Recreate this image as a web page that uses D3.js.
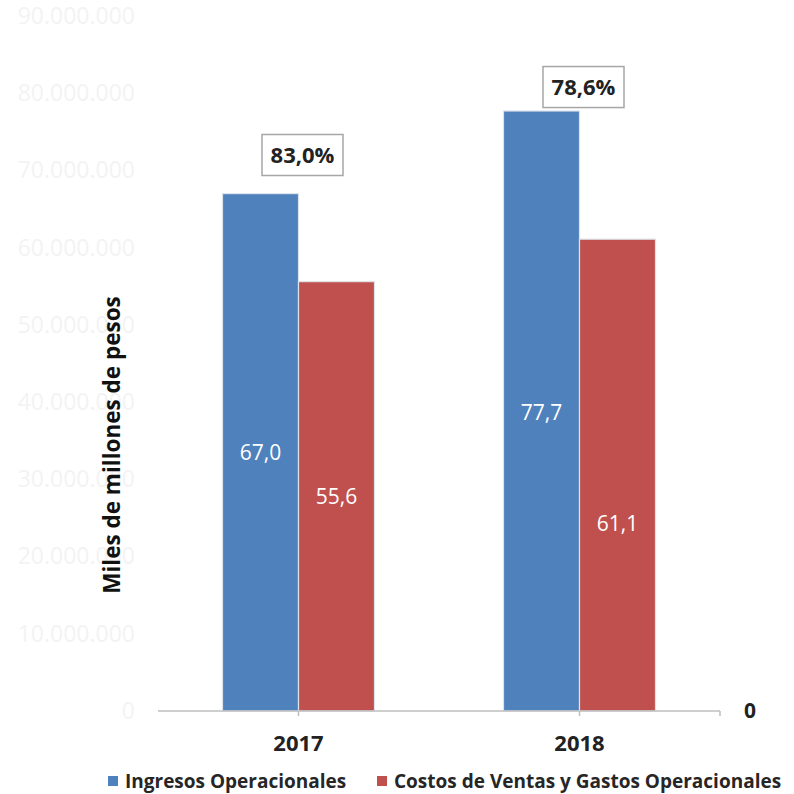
<!DOCTYPE html>
<html>
<head>
<meta charset="utf-8">
<script src="https://cdn.jsdelivr.net/npm/d3@7"></script>
<style>
  html, body { margin: 0; padding: 0; background: #fff; }
  svg { display: block; font-family: "Open Sans", Lato, sans-serif; }
</style>
</head>
<body>
<svg id="chart" width="794" height="794"></svg>
<script>
// ---- data ----
const years = ["2017", "2018"];
const seriesNames = ["Ingresos Operacionales", "Costos de Ventas y Gastos Operacionales"];
const seriesColors = ["#4F81BD", "#C0504D"];
const ingresos = [67.0, 77.7];
const costos = [55.6, 61.1];
const valueLabels = [["67,0", "55,6"], ["77,7", "61,1"]];
const labelAt = [[33.4, 27.8], [38.6, 24.2]];      // label heights in data units
const ratioLabels = ["83,0%", "78,6%"];
const ratioAt = [72.0, 80.8];                        // ratio box heights in data units
const yTicks = [0, 10, 20, 30, 40, 50, 60, 70, 80, 90];
const yTickLabels = ["0", "10.000.000", "20.000.000", "30.000.000", "40.000.000", "50.000.000",
                     "60.000.000", "70.000.000", "80.000.000", "90.000.000"];
const yTitle = "Miles de millones de pesos";
const rightAxisLabel = "0";

// ---- layout ----
const svg = d3.select("#chart");
const plotLeft = 158, plotRight = 720, plotBase = 711, plotTop = 16;

const y = d3.scaleLinear().domain([0, 90]).range([plotBase, plotTop]);
const x0 = d3.scaleBand().domain(years).range([plotLeft, plotRight]).padding(0);
const bw = x0.bandwidth();
const groupW = 152;
const x1 = d3.scaleBand().domain(seriesNames).range([bw / 2 - groupW / 2, bw / 2 + groupW / 2]).padding(0);

// y tick labels (very faint)
const yAxis = d3.axisLeft(y).tickValues(yTicks).tickFormat((d, i) => yTickLabels[i]).tickSize(0).tickPadding(0);
const gy = svg.append("g").attr("transform", `translate(135,0)`).call(yAxis);
gy.select(".domain").remove();
gy.selectAll("text").attr("fill", "#f3f3f3").attr("font-size", 23).attr("font-family", "'Open Sans', sans-serif");

// bars
const data = years.map((yr, i) => ({ year: yr, values: [ingresos[i], costos[i]] }));
const groups = svg.append("g").selectAll("g").data(data).join("g")
  .attr("transform", d => `translate(${x0(d.year)},0)`);
groups.selectAll("rect").data(d => d.values.map((v, j) => ({ v, j })))
  .join("rect")
  .attr("x", d => x1(seriesNames[d.j]))
  .attr("y", d => y(d.v))
  .attr("width", x1.bandwidth())
  .attr("height", d => y(0) - y(d.v))
  .attr("fill", d => seriesColors[d.j])
  .attr("stroke", "#dde3ea")
  .attr("stroke-width", 1.2);

// value labels inside bars
groups.each(function (d, i) {
  d3.select(this).selectAll("text.val").data(valueLabels[i]).join("text")
    .attr("class", "val")
    .attr("x", (t, j) => x1(seriesNames[j]) + x1.bandwidth() / 2)
    .attr("y", (t, j) => y(labelAt[i][j]))
    .attr("dy", "0.35em")
    .attr("text-anchor", "middle")
    .attr("fill", "#ffffff")
    .attr("font-size", 21)
    .text(t => t);
});

// x axis
const xAxisG = svg.append("g");
xAxisG.append("line").attr("x1", plotLeft).attr("x2", plotRight).attr("y1", plotBase).attr("y2", plotBase)
  .attr("stroke", "#bfbfbf").attr("stroke-width", 1.5);
const tickXs = years.map(yr => x0(yr) + bw / 2).concat([plotRight]);
xAxisG.selectAll("line.tick").data(tickXs).join("line").attr("class", "tick")
  .attr("x1", d => d).attr("x2", d => d).attr("y1", plotBase).attr("y2", plotBase + 5)
  .attr("stroke", "#bfbfbf").attr("stroke-width", 1.5);
xAxisG.selectAll("text").data(years).join("text")
  .attr("x", d => x0(d) + bw / 2)
  .attr("y", 743)
  .attr("dy", "0.35em")
  .attr("text-anchor", "middle")
  .attr("font-size", 22)
  .attr("font-weight", "bold")
  .attr("fill", "#222")
  .text(d => d);

// right "0"
svg.append("text").attr("x", 750).attr("y", y(0)).attr("dy", "0.35em")
  .attr("text-anchor", "middle").attr("font-size", 21).attr("font-weight", "bold")
  .attr("fill", "#222").text(rightAxisLabel);

// ratio boxes
const boxW = 81, boxH = 41;
const rg = svg.append("g").selectAll("g").data(years).join("g")
  .attr("transform", (d, i) => `translate(${x0(d) + bw / 2 + 4},${y(ratioAt[i])})`);
rg.append("rect").attr("x", -boxW / 2).attr("y", -boxH / 2).attr("width", boxW).attr("height", boxH)
  .attr("fill", "#fff").attr("stroke", "#a6a6a6").attr("stroke-width", 1.5);
rg.append("text").attr("text-anchor", "middle").attr("dy", "0.35em")
  .attr("font-size", 22).attr("font-weight", "bold").attr("fill", "#222")
  .text((d, i) => ratioLabels[i]);

// y title
svg.append("text")
  .attr("transform", "translate(112,445) rotate(-90)")
  .attr("text-anchor", "middle").attr("dy", "0.35em")
  .attr("font-size", 22.5).attr("font-weight", "bold").attr("fill", "#111")
  .text(yTitle);

// legend
const legendItems = [
  { name: seriesNames[0], color: seriesColors[0], x: 108 },
  { name: seriesNames[1], color: seriesColors[1], x: 377 }
];
const lg = svg.append("g").selectAll("g").data(legendItems).join("g")
  .attr("transform", d => `translate(${d.x},781)`);
lg.append("rect").attr("x", 0).attr("y", -5).attr("width", 10).attr("height", 10).attr("fill", d => d.color);
lg.append("text").attr("x", 17).attr("dy", "0.35em").attr("font-size", 19).attr("font-weight", "bold")
  .attr("fill", "#262626").text(d => d.name);
</script>
</body>
</html>
